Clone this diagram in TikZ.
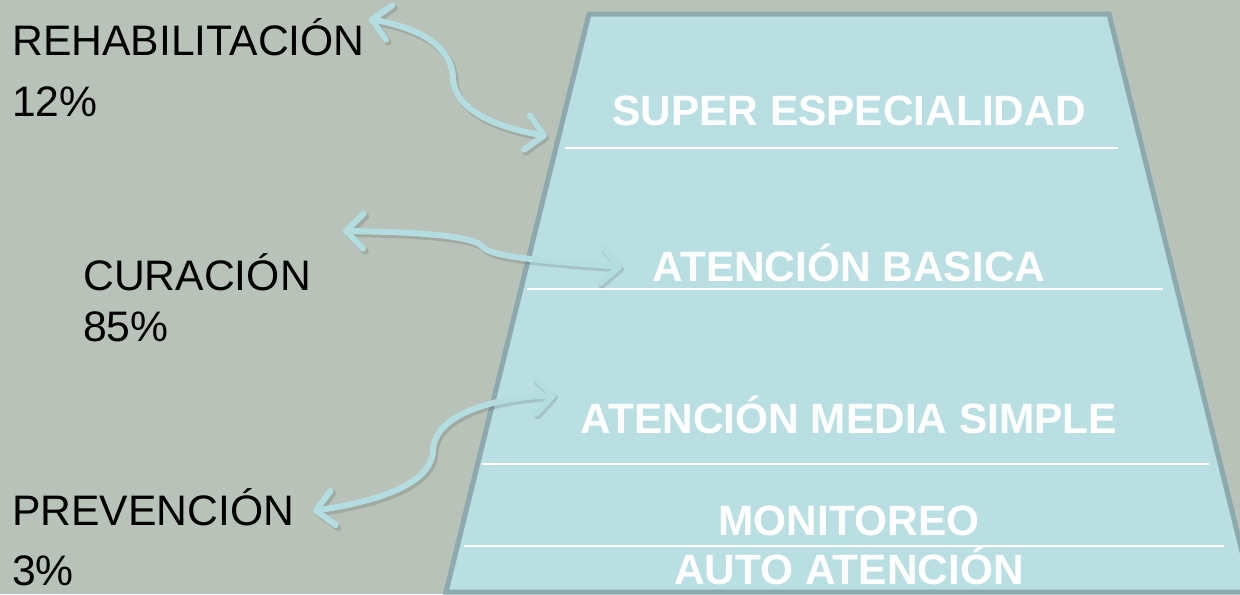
\documentclass[tikz,border=0pt]{standalone}
\usepackage{fontspec}
\setmainfont{Liberation Sans}
\usetikzlibrary{arrows.meta}
\definecolor{cfondo}{HTML}{B8C2B8}
\definecolor{cnivel}{HTML}{BADFE3}
\definecolor{cborde}{HTML}{8CA9AD}
\definecolor{cflecha}{HTML}{B4DDE1}

\begin{document}
\begin{tikzpicture}[x=0.75pt,y=-0.75pt,
        etiqueta/.style={anchor=base west,inner sep=0pt,
            font=\fontsize{32}{36}\selectfont},
        nivel/.style={anchor=base,inner sep=0pt,text=white,
            font=\fontsize{31.8}{36}\selectfont\bfseries},
        separa/.style={draw=white,line width=2.2pt},
        flecha/.style={draw=cflecha,line width=4.5pt,line cap=round,
            {Straight Barb[length=13pt,width=26pt,line cap=round,line join=round]}-{Straight Barb[length=13pt,width=26pt,line cap=round,line join=round]},
            preaction={draw=black,draw opacity=0.12,line width=5pt,
                transform canvas={shift={(1.5pt,-2pt)}}}}]
    \useasboundingbox (0,0) rectangle (1240,594);
    \fill[cfondo] (0,0) rectangle (1240,594);

    % piramide de niveles
    \begin{scope}
        \clip (0,0) rectangle (1240,594);
        \draw[cborde,fill=cnivel,line width=3.75pt,line join=miter]
            (589,14) -- (1109,14) -- (1252,592) -- (446,592) -- cycle;
    \end{scope}
    \draw[separa] (565,148) -- (1118,148);
    \draw[separa] (527,289) -- (1163,289);
    \draw[separa] (482,464) -- (1209,464);
    \draw[separa] (464,546) -- (1224,546);

    \node[nivel] (super) at (849,125) {SUPER ESPECIALIDAD};
    \node[nivel] (basica) at (849,281) {ATENCIÓN BASICA};
    \node[nivel] (media) at (849,433) {ATENCIÓN MEDIA SIMPLE};
    \node[nivel] (monitoreo) at (849,535) {MONITOREO};
    \node[nivel] (auto) at (849,584) {AUTO ATENCIÓN};

    % etiquetas de la izquierda
    \node[etiqueta] (rehab) at (12,55) {REHABILITACIÓN};
    \node[etiqueta] (rehabpct) at (12,116) {12\%};
    \node[etiqueta] (cura) at (83,290) {CURACIÓN};
    \node[etiqueta] (curapct) at (83,341) {85\%};
    \node[etiqueta] (prev) at (12,525) {PREVENCIÓN};
    \node[etiqueta] (prevpct) at (12,585) {3\%};

    % extremos de las flechas
    \coordinate (r1) at (369,19);
    \coordinate (r2) at (547,136);
    \coordinate (c1) at (343,231);
    \coordinate (c2) at (622,267);
    \coordinate (p1) at (313,511);
    \coordinate (p2) at (556,395);

    \draw[flecha] (r1) .. controls (430,30) and (452,52) .. (453,78)
        .. controls (455,112) and (500,128) .. (r2);
    \draw[flecha] (c1) .. controls (420,232) and (475,236) .. (483,247)
        .. controls (492,258) and (560,262) .. (c2);
    \draw[flecha] (p1) .. controls (385,500) and (432,482) .. (433,450)
        .. controls (435,415) and (490,398) .. (p2);
\end{tikzpicture}
\end{document}
